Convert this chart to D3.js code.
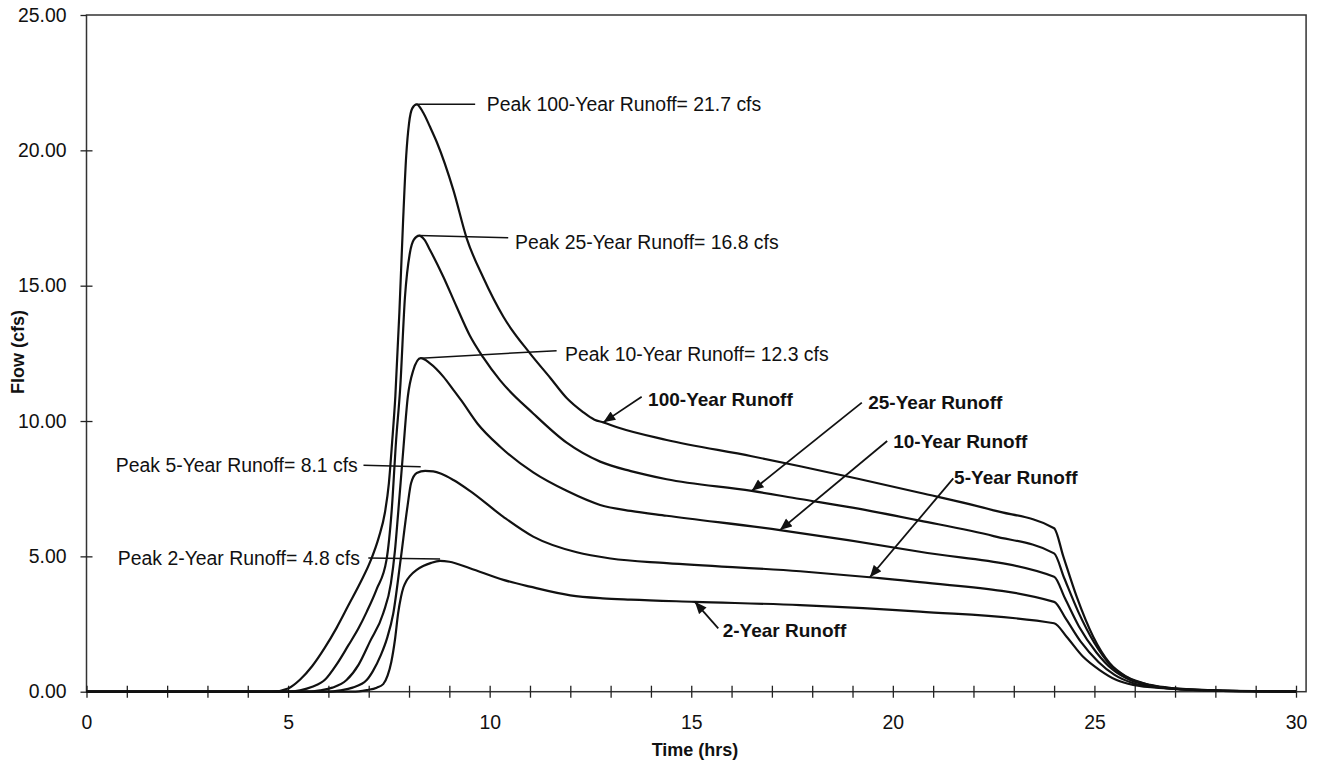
<!DOCTYPE html>
<html>
<head>
<meta charset="utf-8">
<script src="https://cdn.jsdelivr.net/npm/d3@7"></script>
<style>
  body { margin: 0; background: #fff; }
  text { font-family: "Liberation Sans", Arial, sans-serif; fill: #111; }
</style>
</head>
<body>
<div id="chart"></div>
<script>
// hydrograph values: [hours, cfs]
var runoff2 = [[0,0],[6.6,0],[6.95,0.06],[7.2,0.15],[7.36,0.28],[7.47,0.6],[7.56,1.1],[7.65,1.91],[7.73,2.9],[7.8,3.5],[7.86,3.85],[7.93,4.08],[8.02,4.27],[8.19,4.5],[8.35,4.64],[8.55,4.76],[8.77,4.83],[9.0,4.8],[9.51,4.56],[10.34,4.13],[11.0,3.88],[12.0,3.56],[12.8,3.45],[13.5,3.4],[15.09,3.32],[17.7,3.2],[20.67,2.96],[24.0,2.53],[24.31,2.03],[24.72,1.29],[25.13,0.8],[25.55,0.43],[25.96,0.25],[26.79,0.12],[28,0.04],[29,0.015],[30,0.005]];
var runoff5 = [[0,0],[6.0,0],[6.3,0.05],[6.6,0.15],[6.95,0.43],[7.1,0.75],[7.3,1.35],[7.45,1.95],[7.61,2.9],[7.79,4.86],[7.96,6.83],[8.05,7.7],[8.19,8.08],[8.4,8.16],[8.6,8.14],[8.8,8.05],[9.1,7.82],[9.51,7.42],[10.34,6.46],[11.08,5.73],[12.16,5.15],[13.0,4.92],[14.39,4.75],[17.7,4.45],[19.5,4.22],[20.67,4.05],[24.0,3.32],[24.29,2.7],[24.66,1.85],[25.1,1.1],[25.5,0.62],[25.93,0.33],[26.6,0.16],[27,0.1],[28,0.04],[29,0.015],[30,0.006]];
var runoff10 = [[0,0],[5.5,0],[5.8,0.05],[6.1,0.15],[6.45,0.43],[6.75,1.0],[7.03,1.85],[7.36,2.9],[7.55,4.0],[7.65,5.2],[7.73,6.6],[7.85,8.8],[7.97,10.9],[8.1,11.85],[8.29,12.32],[8.52,12.13],[8.85,11.64],[9.1,11.15],[9.3,10.75],[9.7,9.9],[10.26,9.05],[11.08,8.1],[11.91,7.42],[12.74,6.9],[13.5,6.68],[14.39,6.5],[17.2,5.97],[20.67,5.17],[24.0,4.25],[24.27,3.45],[24.62,2.4],[25.05,1.45],[25.45,0.82],[25.9,0.42],[26.5,0.2],[27,0.1],[28,0.04],[29,0.016],[30,0.007]];
var runoff25 = [[0,0],[5.0,0],[5.3,0.05],[5.6,0.18],[5.92,0.45],[6.2,1.0],[6.49,1.7],[6.75,2.35],[6.95,2.95],[7.2,3.8],[7.44,4.86],[7.57,6.7],[7.68,9.3],[7.78,11.2],[7.9,14.6],[8.02,16.2],[8.12,16.7],[8.25,16.85],[8.38,16.7],[8.52,16.32],[8.85,15.33],[9.18,14.22],[9.51,13.15],[9.84,12.35],[10.26,11.5],[11.08,10.28],[11.91,9.2],[12.74,8.5],[13.5,8.15],[14.39,7.85],[16.5,7.42],[17.7,7.12],[19.0,6.8],[20.67,6.32],[22.5,5.75],[24.0,5.11],[24.25,4.2],[24.6,2.95],[25.0,1.8],[25.4,0.98],[25.85,0.5],[26.4,0.24],[27.0,0.11],[28,0.045],[29,0.018],[30,0.008]];
var runoff100 = [[0,0],[4.6,0],[5.0,0.12],[5.3,0.45],[5.6,0.95],[5.9,1.6],[6.2,2.35],[6.5,3.2],[6.8,4.05],[7.05,4.85],[7.25,5.7],[7.4,6.6],[7.5,7.7],[7.58,9.2],[7.66,10.9],[7.76,14.0],[7.85,17.3],[7.93,19.8],[8.0,21.0],[8.08,21.55],[8.19,21.7],[8.35,21.4],[8.52,20.87],[8.69,20.3],[9.1,18.53],[9.43,16.75],[9.84,15.3],[10.34,13.85],[11.0,12.5],[11.5,11.6],[11.91,10.85],[12.3,10.35],[12.6,10.05],[12.82,9.95],[13.2,9.75],[14.39,9.3],[16.5,8.7],[17.7,8.33],[20.67,7.35],[22.5,6.7],[24.0,6.04],[24.23,4.99],[24.56,3.51],[24.97,2.03],[25.38,1.05],[25.8,0.55],[26.38,0.25],[27.04,0.12],[28,0.05],[29,0.02],[30,0.01]];

var seriesNames = ["2-Year Runoff", "5-Year Runoff", "10-Year Runoff", "25-Year Runoff", "100-Year Runoff"];
var peakFlows = [4.8, 8.1, 12.3, 16.8, 21.7];
var xTicks = d3.range(0, 31);
var yTicks = [0, 5, 10, 15, 20, 25];

var allSeries = [runoff2, runoff5, runoff10, runoff25, runoff100];

var W = 1319, H = 768;
var svg = d3.select("#chart").append("svg").attr("width", W).attr("height", H);

var x = d3.scaleLinear().domain([0, 30]).range([86.5, 1296]);
var y = d3.scaleLinear().domain([0, 25]).range([691.7, 15]);

function valueAt(data, t) {
    for (var i = 0; i < data.length - 1; i++) {
        if (t >= data[i][0] && t <= data[i + 1][0]) {
            var f = (t - data[i][0]) / (data[i + 1][0] - data[i][0]);
            return data[i][1] + f * (data[i + 1][1] - data[i][1]);
        }
    }
    return 0;
}

// frame
svg.append("rect")
    .attr("x", x(0)).attr("y", y(25))
    .attr("width", x(30.25) - x(0)).attr("height", y(0) - y(25))
    .attr("fill", "none").attr("stroke", "#333").attr("stroke-width", 1.5);

// x axis
var xAxis = svg.append("g")
    .attr("transform", "translate(0," + y(0) + ")")
    .call(d3.axisBottom(x).tickValues(xTicks).tickSize(6)
        .tickFormat(function(d) { return d % 5 === 0 ? d : ""; }));
xAxis.select(".domain").remove();
xAxis.selectAll(".tick line").attr("y1", -6).attr("y2", 6).attr("stroke", "#222").attr("stroke-width", 1.3);
xAxis.selectAll(".tick text").attr("y", 23.5).attr("dy", "0.71em").style("font-size", "19.4px").attr("fill", "#111");

// y axis
var yAxis = svg.append("g")
    .attr("transform", "translate(" + x(0) + ",0)")
    .call(d3.axisLeft(y).tickValues(yTicks).tickSize(6).tickFormat(d3.format(".2f")));
yAxis.select(".domain").remove();
yAxis.selectAll(".tick line").attr("x1", -6).attr("x2", function(d) { return d === 0 || d === 25 ? 0 : 6; })
    .attr("stroke", "#222").attr("stroke-width", 1.3);
yAxis.selectAll(".tick text").attr("x", -20).style("font-size", "19.4px").attr("fill", "#111");

// axis titles
svg.append("text")
    .attr("x", 695).attr("y", 756)
    .attr("text-anchor", "middle")
    .style("font-size", "18px").style("font-weight", "bold")
    .text("Time (hrs)");
svg.append("text")
    .attr("transform", "translate(24,352) rotate(-90)")
    .attr("text-anchor", "middle")
    .style("font-size", "18px").style("font-weight", "bold")
    .text("Flow (cfs)");

// hydrographs
var line = d3.line()
    .x(function(d) { return x(d[0]); })
    .y(function(d) { return y(d[1]); })
    .curve(d3.curveMonotoneX);

svg.selectAll("path.runoff").data(allSeries).enter().append("path")
    .attr("class", "runoff")
    .attr("d", line)
    .attr("fill", "none")
    .attr("stroke", "#111")
    .attr("stroke-width", 2.2)
    .attr("stroke-linejoin", "round");

// peak labels
var peakLabels = [
    { s: 4, from: [8.19, 21.7], to: [9.64, 21.7], tx: 9.93, ty: 21.7, anchor: "start" },
    { s: 3, from: [8.25, 16.85], to: [10.46, 16.77], tx: 10.63, ty: 16.62, anchor: "start" },
    { s: 2, from: [8.29, 12.32], to: [11.66, 12.6], tx: 11.87, ty: 12.47, anchor: "start" },
    { s: 1, from: [6.87, 8.37], to: [8.29, 8.31], tx: 6.73, ty: 8.37, anchor: "end" },
    { s: 0, from: [6.99, 4.94], to: [8.77, 4.9], tx: 6.78, ty: 4.93, anchor: "end" }
];
peakLabels.forEach(function(p) {
    svg.append("line")
        .attr("x1", x(p.from[0])).attr("y1", y(p.from[1]))
        .attr("x2", x(p.to[0])).attr("y2", y(p.to[1]))
        .attr("stroke", "#111").attr("stroke-width", 1.5);
    svg.append("text")
        .attr("x", x(p.tx)).attr("y", y(p.ty)).attr("dy", "0.35em")
        .attr("text-anchor", p.anchor)
        .style("font-size", "19.4px")
        .text("Peak " + seriesNames[p.s] + "= " + peakFlows[p.s] + " cfs");
});

// series labels with arrows
svg.append("defs").append("marker")
    .attr("id", "arrow")
    .attr("markerUnits", "userSpaceOnUse")
    .attr("viewBox", "0 0 12 10")
    .attr("refX", 12).attr("refY", 5)
    .attr("markerWidth", 13).attr("markerHeight", 10)
    .attr("orient", "auto")
    .append("path").attr("d", "M0,0L12,5L0,10Z").attr("fill", "#111");

var seriesLabels = [
    { s: 4, tip: 12.82, from: [13.77, 10.9], tx: 13.93, ty: 10.81 },
    { s: 3, tip: 16.5, from: [19.23, 10.68], tx: 19.39, ty: 10.68 },
    { s: 2, tip: 17.2, from: [19.86, 9.26], tx: 20.01, ty: 9.24 },
    { s: 1, tip: 19.43, from: [21.5, 7.88], tx: 21.52, ty: 7.92 },
    { s: 0, tip: 15.09, from: [15.67, 2.34], tx: 15.78, ty: 2.25 }
];
seriesLabels.forEach(function(l) {
    svg.append("line")
        .attr("x1", x(l.from[0])).attr("y1", y(l.from[1]))
        .attr("x2", x(l.tip)).attr("y2", y(valueAt(allSeries[l.s], l.tip)))
        .attr("stroke", "#111").attr("stroke-width", 1.8)
        .attr("marker-end", "url(#arrow)");
    svg.append("text")
        .attr("x", x(l.tx)).attr("y", y(l.ty)).attr("dy", "0.35em")
        .style("font-size", "19px").style("font-weight", "bold")
        .text(seriesNames[l.s]);
});
</script>
</body>
</html>
